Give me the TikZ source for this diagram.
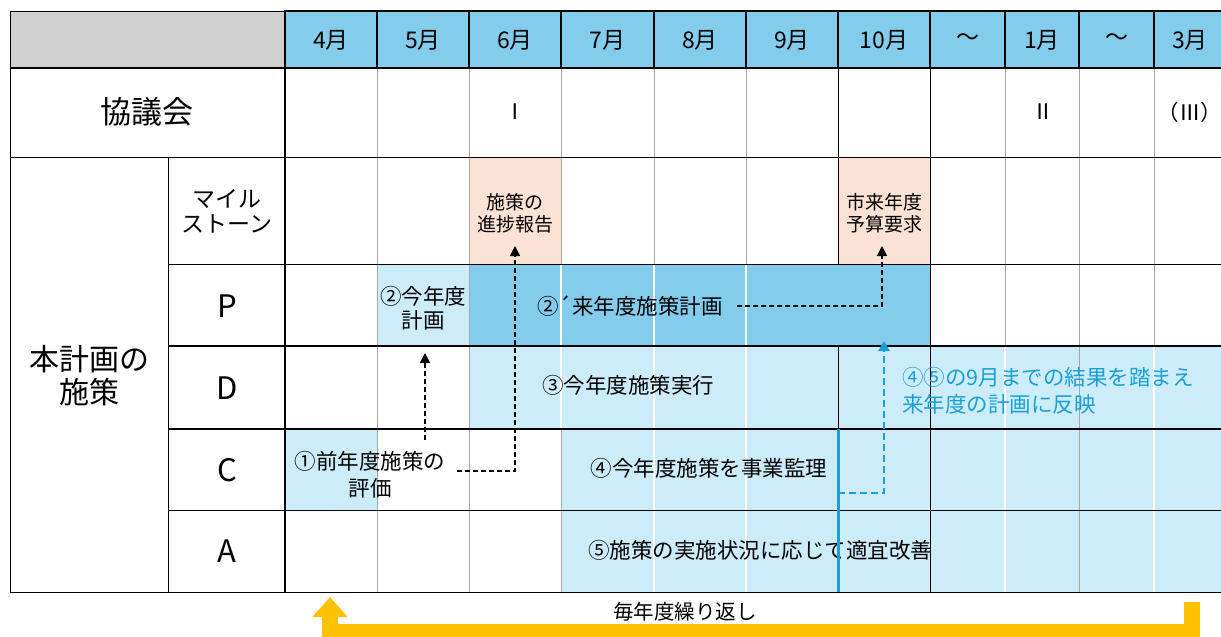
\documentclass[tikz,border=0pt]{standalone}
\usepackage{fontspec}
\setmainfont{Noto Sans CJK JP}
\usetikzlibrary{arrows.meta,positioning,calc}
\definecolor{hdrblue}{HTML}{83CCEB}
\definecolor{paleblue}{HTML}{CCECFA}
\definecolor{peach}{HTML}{FBE2D5}
\definecolor{hdrgray}{HTML}{D0D0D0}
\definecolor{fbblue}{HTML}{1A9FD8}
\definecolor{loopyellow}{HTML}{FFC000}

\begin{document}
\begin{tikzpicture}[
    x=1pt, y=-1pt,
    font=\fontsize{21.5}{27}\selectfont,
    txt/.style={align=center, inner sep=0pt},
    hdrcell/.style={draw=black, line width=1.2pt, fill=hdrblue},
    thin grid/.style={draw=gray!70, line width=0.8pt},
    gap/.style={draw=white, line width=1.6pt},
    rule/.style={draw=black, line width=1pt},
    bold rule/.style={draw=black, line width=2pt},
    arr/.style={-{Triangle[width=10pt,length=10pt]}, dash pattern=on 5pt off 3pt, line width=1.6pt},
    fbarr/.style={-{Triangle[width=11pt,length=10pt]}, dash pattern=on 7pt off 4pt, line width=2.4pt, fbblue},
  ]
    \useasboundingbox (0,0) rectangle (1221,637);
    \clip (0,0) rectangle (1221,637);

    % shaded cells
    \fill[hdrgray]   (10,11)   rectangle (285,68);
    \fill[peach]     (469,157) rectangle (561,264);
    \fill[peach]     (838,157) rectangle (930,264);
    \fill[paleblue]  (377,264) rectangle (469,346);
    \fill[hdrblue]   (469,264) rectangle (930,346);
    \fill[paleblue]  (469,346) rectangle (1230,429);
    \fill[paleblue]  (285,429) rectangle (377,510);
    \fill[paleblue]  (561,429) rectangle (1230,592);

    % grid
    \foreach \x in {377,469,561,654,746,1005,1079,1154}
      \draw[thin grid] (\x,68) -- (\x,592);
    \draw[gap] (561,264) -- (561,429);
    \foreach \x in {654,746}
      \draw[gap] (\x,264) -- (\x,592);
    \foreach \x in {1005,1154}
      \draw[gap] (\x,346) -- (\x,592);
    \draw[rule] (838,68) -- (838,264) (838,346) -- (838,592);
    \draw[rule] (930,68) -- (930,592);
    \draw[rule] (168,157) -- (168,592);
    \draw[bold rule] (285,11) -- (285,592);
    \draw[rule] (10,11) -- (10,592) -- (1230,592);
    \draw[rule] (10,11) -- (1230,11);
    \draw[bold rule] (10,68) -- (1230,68);
    \draw[rule] (10,157) -- (1230,157);
    \draw[rule] (168,264) -- (1230,264);
    \draw[bold rule] (168,346) -- (1230,346);
    \draw[bold rule] (168,429) -- (1230,429);
    \draw[rule] (168,510) -- (1230,510);

    % month header
    \foreach \a/\b/\t [count=\i] in {285/377/4月, 377/469/5月, 469/561/6月,
        561/654/7月, 654/746/8月, 746/838/9月, 838/930/10月, 930/1005/～,
        1005/1079/1月, 1079/1154/～, 1154/1226/3月}{
      \draw[hdrcell] (\a,11) rectangle (\b,68);
      \node[txt, font=\fontsize{23}{25}\selectfont] (mon\i) at ({(\a+\b)/2},40) {\t};
    }

    % row labels
    \node[txt, font=\fontsize{31}{33}\selectfont] (council) at (147,112) {協議会};
    \node[txt, font=\fontsize{30}{33}\selectfont] (plan)    at (89,376)  {本計画の\\施策};
    \node[txt, font=\fontsize{23}{25}\selectfont] (mile)    at (227,211) {マイル\\ストーン};
    \foreach \r/\y in {P/306, D/388, C/470, A/551}
      \node[txt, font=\fontsize{31}{31}\selectfont] (row\r) at (227,\y) {\r};

    % council meetings
    \node[txt] (meet1) at (515,112) {Ⅰ};
    \node[txt] (meet2) at (1043,112) {Ⅱ};
    \node[txt] (meet3) at (1190,112) {（Ⅲ）};

    % milestones
    \node[txt, font=\fontsize{19}{22}\selectfont] (progress) at (515,213) {施策の\\進捗報告};
    \node[txt, font=\fontsize{19}{22}\selectfont] (budget)   at (884,213) {市来年度\\予算要求};

    % PDCA contents
    \node[txt, font=\fontsize{21.5}{24}\selectfont] (planA) at (423,308) {②今年度\\計画};
    \node[txt] (planB) at (630,306) {②´来年度施策計画};
    \node[txt] (doA)   at (628,385) {③今年度施策実行};
    \node[txt] (eval)  at (370,475) {①前年度施策の\\評価};
    \node[txt] (check) at (709,468) {④今年度施策を事業監理};
    \node[txt] (act)   at (760,550) {⑤施策の実施状況に応じて適宜改善};
    \node[txt, text=fbblue, align=left, anchor=north west] (feedback) at (902,367)
      {④⑤の9月までの結果を踏まえ\\来年度の計画に反映};
    \node[txt, font=\fontsize{20.5}{24}\selectfont] (repeat) at (685,612) {毎年度繰り返し};

    % dashed flows
    \coordinate (evalend)  at (457,471);
    \coordinate (evalup)   at (425,440);
    \coordinate (planAtip) at (425,353);
    \coordinate (progtip)  at (515,246);
    \coordinate (planBend) at (737,306);
    \coordinate (budgtip)  at (882,246);
    \coordinate (fbstart)  at (838,493);
    \coordinate (fbtip)    at (884,341);
    \draw[arr] (evalend) -| (progtip);
    \draw[arr] (evalup) -- (planAtip);
    \draw[arr] (planBend) -| (budgtip);
    \draw[fbblue, line width=3pt] (838,429) -- (838,592);
    \draw[fbarr] (fbstart) -| (fbtip);

    % yearly loop
    \draw[loopyellow, line width=16pt, line join=miter,
          -{Triangle[width=34pt,length=20pt]}]
      (1192,602) -- (1192,632) -- (330,632) -- (330,597);
\end{tikzpicture}
\end{document}
